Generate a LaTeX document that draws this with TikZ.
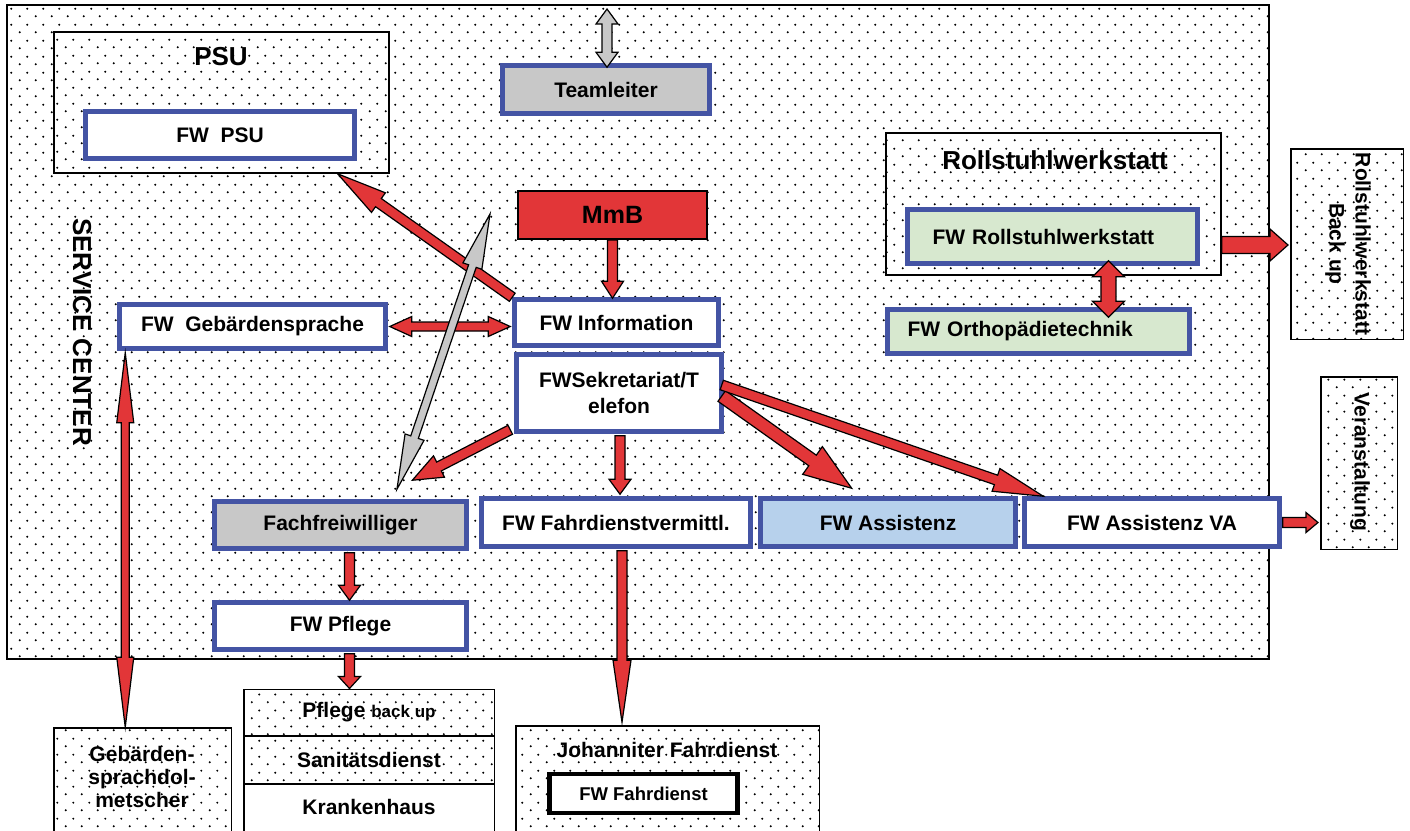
\documentclass[tikz,border=0pt]{standalone}
\usepackage{fontspec}
\setmainfont{Liberation Sans}
\usetikzlibrary{calc, patterns, positioning}

\definecolor{fwblue}{RGB}{68,84,164}
\definecolor{arrowred}{RGB}{226,54,56}
\definecolor{boxgray}{RGB}{200,200,200}
\definecolor{assistblue}{RGB}{183,209,236}
\definecolor{rollgreen}{RGB}{215,232,207}

\newcommand{\fwfont}{\bfseries\fontsize{21}{26}\selectfont}
\newcommand{\titlefont}{\bfseries\fontsize{26}{30}\selectfont}

% loose dot raster for the frames
\pgfdeclarepatternformonly{sparsedots}{\pgfqpoint{0pt}{0pt}}{\pgfqpoint{15.5pt}{15.5pt}}{\pgfqpoint{15.5pt}{15.5pt}}{%
  \pgfpathcircle{\pgfqpoint{3.9pt}{3.9pt}}{1.15pt}%
  \pgfpathcircle{\pgfqpoint{11.6pt}{11.6pt}}{1.15pt}%
  \pgfusepath{fill}}

% block arrow: [style]{from}{to}{shaft half width}{head half width}{head length}
\newcommand{\fatarrow}[6][redarrow]{%
  \coordinate (fa-a) at #2;
  \coordinate (fa-b) at #3;
  \coordinate (fa-c) at ($(fa-b)!#6!(fa-a)$);
  \draw[#1] ($(fa-a)!#4!90:(fa-b)$) -- ($(fa-c)!#4!90:(fa-b)$) -- ($(fa-c)!#5!90:(fa-b)$)
    -- (fa-b) -- ($(fa-c)!#5!-90:(fa-b)$) -- ($(fa-c)!#4!-90:(fa-b)$)
    -- ($(fa-a)!#4!-90:(fa-b)$) -- cycle;
}
% same with a head on both ends
\newcommand{\fatdarrow}[6][redarrow]{%
  \coordinate (fa-a) at #2;
  \coordinate (fa-b) at #3;
  \coordinate (fa-c) at ($(fa-b)!#6!(fa-a)$);
  \coordinate (fa-d) at ($(fa-a)!#6!(fa-b)$);
  \draw[#1] (fa-a) -- ($(fa-d)!#5!90:(fa-b)$) -- ($(fa-d)!#4!90:(fa-b)$)
    -- ($(fa-c)!#4!90:(fa-b)$) -- ($(fa-c)!#5!90:(fa-b)$) -- (fa-b)
    -- ($(fa-c)!#5!-90:(fa-b)$) -- ($(fa-c)!#4!-90:(fa-b)$)
    -- ($(fa-d)!#4!-90:(fa-b)$) -- ($(fa-d)!#5!-90:(fa-b)$) -- cycle;
}

\begin{document}
\begin{tikzpicture}[x=1pt,y=-1pt]
  \tikzstyle{fwbox}=[draw=fwblue, line width=4.5pt, fill=white, inner sep=0pt, font=\fwfont, align=center]
  \tikzstyle{groupbox}=[draw=black, line width=1.5pt, preaction={fill=white}, pattern=sparsedots, pattern color=black, inner sep=0pt]
  \tikzstyle{plainbox}=[draw=black, line width=1.5pt, fill=white, inner sep=0pt]
  \tikzstyle{redarrow}=[draw=black, fill=arrowred, line width=1.2pt, line join=miter]
  \tikzstyle{grayarrow}=[draw=black, fill=boxgray, line width=1.2pt, line join=miter]

  \useasboundingbox (0,0) rectangle (1410,830);

  % service center
  \node[groupbox, minimum width=1262pt, minimum height=654pt] (sc) at (638,332) {};
  \node[rotate=-90, font=\titlefont] (sctitle) at (82,332) {SERVICE CENTER};

  % PSU
  \node[groupbox, minimum width=335pt, minimum height=141pt] (psu) at (221.5,102.5) {};
  \node[font=\titlefont] (psutitle) at (221,57) {PSU};
  \node[fwbox, minimum width=269pt, minimum height=47pt] (fwpsu) at (220,135) {FW~~PSU};

  % top row
  \node[fwbox, fill=boxgray, minimum width=207pt, minimum height=48pt] (team) at (606,89.5) {Teamleiter};
  \node[draw=black, line width=2pt, fill=arrowred, minimum width=189pt, minimum height=48pt,
        font=\bfseries\fontsize{25}{30}\selectfont] (mmb) at (612.5,215) {MmB};
  \node[fwbox, minimum width=204pt, minimum height=46pt] (info) at (616.5,322.5) {FW Information};
  \node[fwbox, minimum width=205pt, minimum height=77pt] (sekr) at (619,393) {FWSekretariat/T\\elefon};
  \node[fwbox, minimum width=266pt, minimum height=44pt] (gebsp) at (252.5,326.5) {FW~~Gebärdensprache};

  % Rollstuhlwerkstatt
  \node[groupbox, minimum width=335pt, minimum height=142pt] (rollgrp) at (1053.5,204) {};
  \node[font=\titlefont] (rolltitle) at (1055,160) {Rollstuhlwerkstatt};
  \node[fwbox, fill=rollgreen, minimum width=290pt, minimum height=54pt, text width=240pt,
        inner xsep=25pt, align=left] (fwroll) at (1052.5,236.5) {FW Rollstuhlwerkstatt};
  \node[fwbox, fill=rollgreen, minimum width=302pt, minimum height=44pt, text width=262pt,
        inner xsep=20pt, align=left] (ortho) at (1038.5,331.5) {FW Orthopädietechnik};
  \node[groupbox, minimum width=112.5pt, minimum height=190.5pt] (backup) at (1347,244) {};
  \node[rotate=-90, font=\fwfont, align=center] (backuptext) at (1348,244) {Rollstuhlwerkstatt\\Back up};

  % Freiwillige row
  \node[fwbox, fill=boxgray, minimum width=252pt, minimum height=47pt] (fachfw) at (340.5,525) {Fachfreiwilliger};
  \node[fwbox, minimum width=269pt, minimum height=48pt] (fahrv) at (616,522.5) {FW Fahrdienstvermittl.};
  \node[fwbox, fill=assistblue, minimum width=255pt, minimum height=48pt] (assist) at (888,522.5) {FW Assistenz};
  \node[fwbox, minimum width=255pt, minimum height=48pt] (assistva) at (1152,522.5) {FW Assistenz VA};
  \node[groupbox, minimum width=76.5pt, minimum height=172.5pt] (veran) at (1359,463) {};
  \node[rotate=-90, font=\fwfont] (verantext) at (1360,462) {Veranstaltung};
  \node[fwbox, minimum width=252pt, minimum height=47pt] (pflege) at (340.5,626) {FW Pflege};

  % outside the service center
  \node[groupbox, minimum width=177.5pt, minimum height=120pt] (gebdol) at (142.5,788) {};
  \node[font=\fwfont, align=center, execute at begin node=\setlength{\baselineskip}{23pt}] (gebdoltext) at (142,777)
    {Gebärden-\\sprachdol-\\metscher};
  \node[groupbox, minimum width=250.5pt, minimum height=46.5pt, font=\fwfont] (pflbk) at (369,712.5)
    {Pflege {\fontsize{17}{20}\selectfont back up}};
  \node[groupbox, minimum width=250.5pt, minimum height=47pt, font=\fwfont] (sani) at (369,760) {Sanitätsdienst};
  \node[plainbox, minimum width=250.5pt, minimum height=56pt, font=\fwfont] (kh) at (369,812) {};
  \node[font=\fwfont] (khtext) at (369,807) {Krankenhaus};
  \node[groupbox, minimum width=303.5pt, minimum height=120pt] (johan) at (667.5,786) {};
  \node[font=\fwfont] (johantitle) at (667,750) {Johanniter Fahrdienst};
  \node[draw=black, line width=4.5pt, fill=white, minimum width=188pt, minimum height=39pt,
        font=\bfseries\fontsize{18.5}{22}\selectfont] (fwfahr) at (643.5,793.5) {FW Fahrdienst};

  % anchor points for the connectors
  \coordinate (tltop) at (607,9);
  \coordinate (fachtop) at (490,214);
  \coordinate (pflout) at ($(pflege.south)+(9,0)$);
  \coordinate (gebout) at ($(gebsp.south west)+(8,0)$);
  \coordinate (fahrout) at ($(fahrv.south)+(6,0)$);
  \coordinate (rollout) at ($(rollgrp.east)+(0,41)$);
  \coordinate (rollmid) at ($(fwroll.south west)!0.69!(fwroll.south east)$);

  % connectors
  \fatarrow{(mmb.south)}{($(mmb.south |- info.north)+(0,1)$)}{5pt}{11pt}{17pt}
  \fatarrow{(info.north west)}{($(psu.south west)!0.845!(psu.south east)$)}{5pt}{12pt}{50pt}
  \fatdarrow{($(gebsp.east)+(2,0)$)}{($(gebsp.east -| info.west)+(-2,0)$)}{4.5pt}{10pt}{22pt}
  \fatarrow{($(sekr.south west)+(-4,-4)$)}{($(fachfw.north west)!0.78!(fachfw.north east)+(0,-19)$)}{5pt}{12pt}{30pt}
  \fatarrow{($(sekr.south)+(1,2)$)}{($(sekr.south |- fahrv.north)+(1,-2)$)}{5pt}{11pt}{15pt}
  \fatarrow{($(sekr.east)+(-2,3)$)}{($(assist.north west)!0.36!(assist.north east)+(0,-8)$)}{6.5pt}{17pt}{48pt}
  \fatarrow{($(sekr.east)+(-2,-8)$)}{($(assistva.north west)+(21,0)$)}{5pt}{12pt}{50pt}
  \fatarrow{($(fachfw.south)+(9,2)$)}{($(pflege.north)+(9,0)$)}{5pt}{11pt}{15pt}
  \fatarrow{($(pflout)+(0,2)$)}{(pflout |- pflbk.north)}{5pt}{11pt}{12pt}
  \fatdarrow{($(gebout)+(0,2)$)}{(gebout |- gebdol.north)}{4pt}{8.5pt}{70pt}
  \fatarrow{($(fahrout)+(0,2)$)}{($(fahrout |- johan.north)+(0,-3)$)}{5pt}{9pt}{62pt}
  \fatarrow{($(assistva.east)+(1,0)$)}{($(assistva.east -| veran.west)+(-2,0)$)}{5pt}{10pt}{12pt}
  \fatarrow{(rollout)}{($(rollout -| backup.west)+(-2,0)$)}{8.5pt}{16pt}{18pt}
  \fatdarrow{($(rollmid)+(0,-5)$)}{($(rollmid |- ortho.north)+(0,10)$)}{7.5pt}{16pt}{16pt}
  \fatdarrow[grayarrow]{(tltop)}{($(team.north)+(1,4)$)}{5pt}{11pt}{15pt}
  \fatdarrow[grayarrow]{(fachtop)}{($(fachfw.north west)!0.72!(fachfw.north east)+(0,-10)$)}{4pt}{10pt}{55pt}
\end{tikzpicture}
\end{document}
